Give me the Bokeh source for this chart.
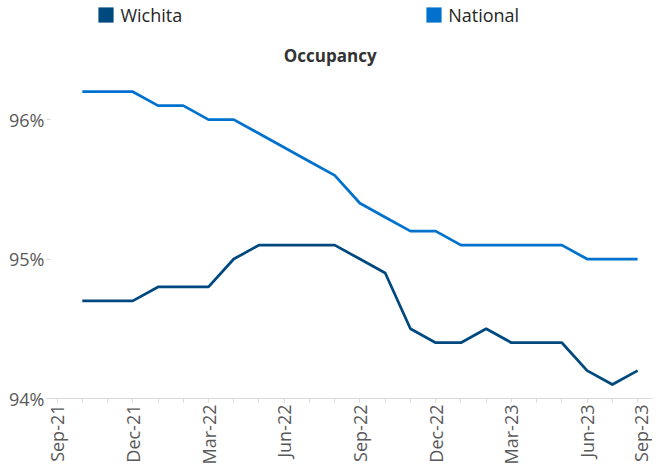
import math
from bokeh.plotting import figure
from bokeh.models import (Range1d, FixedTicker, PrintfTickFormatter, Legend,
                          LegendItem, Label)
from bokeh.embed import file_html
from bokeh.resources import INLINE

# ---- data -------------------------------------------------------------
axis_months = ["Sep-21", "Oct-21", "Nov-21", "Dec-21", "Jan-22", "Feb-22",
               "Mar-22", "Apr-22", "May-22", "Jun-22", "Jul-22", "Aug-22",
               "Sep-22", "Oct-22", "Nov-22", "Dec-22", "Jan-23", "Feb-23",
               "Mar-23", "Apr-23", "May-23", "Jun-23", "Jul-23", "Aug-23",
               "Sep-23"]
data_months = ["Oct-21", "Nov-21", "Dec-21", "Jan-22", "Feb-22", "Mar-22",
               "Apr-22", "May-22", "Jun-22", "Jul-22", "Aug-22", "Sep-22",
               "Oct-22", "Nov-22", "Dec-22", "Jan-23", "Feb-23", "Mar-23",
               "Apr-23", "May-23", "Jun-23", "Jul-23", "Aug-23"]
wichita = [94.7, 94.7, 94.7, 94.8, 94.8, 94.8, 95.0, 95.1, 95.1, 95.1, 95.1,
           95.0, 94.9, 94.5, 94.4, 94.4, 94.5, 94.4, 94.4, 94.4, 94.2, 94.1,
           94.2]
national = [96.2, 96.2, 96.2, 96.1, 96.1, 96.0, 96.0, 95.9, 95.8, 95.7, 95.6,
            95.4, 95.3, 95.2, 95.2, 95.1, 95.1, 95.1, 95.1, 95.1, 95.0, 95.0,
            95.0]
tick_labels = ["Sep-21", "Dec-21", "Mar-22", "Jun-22", "Sep-22", "Dec-22",
               "Mar-23", "Jun-23", "Sep-23"]
y_ticks = [94, 95, 96]
series_names = ["Wichita", "National"]
title_text = "Occupancy"

# ---- style ------------------------------------------------------------
C_WICHITA = "#00497F"
C_NATIONAL = "#0072CE"
FONT = "Open Sans"
AXIS_GRAY = "#D9D9D9"
LABEL_GRAY = "#595959"

X_START, X_END = -0.26, 23.59

x = [axis_months.index(m) for m in data_months]
# the last label (Sep-23) falls just past the right edge; like the reference,
# pull it back inside so that it stays readable
tick_pos = [min(float(axis_months.index(t)), X_END - 0.28) for t in tick_labels]

p = figure(width=652, height=467,
           x_range=Range1d(X_START, X_END), y_range=Range1d(94, 96.854),
           min_border_left=50, min_border_right=0, min_border_top=0,
           min_border_bottom=66, output_backend="svg", toolbar_location=None)
p.outline_line_color = None
p.xgrid.grid_line_color = None
p.ygrid.grid_line_color = None
p.background_fill_color = "white"

p.line(x, national, line_color=C_NATIONAL, line_width=2.75, line_join="round")
p.line(x, wichita, line_color=C_WICHITA, line_width=2.75, line_join="round")

# legend proxies (filled squares, nothing drawn in the plot area)
nan = float("nan")
rw = p.quad(left=[nan], right=[nan], top=[nan], bottom=[nan],
            fill_color=C_WICHITA, line_color=None)
rn = p.quad(left=[nan], right=[nan], top=[nan], bottom=[nan],
            fill_color=C_NATIONAL, line_color=None)

# x axis: month tick marks (minor), labels every quarter (major, no mark)
xa = p.xaxis[0]
xa.ticker = FixedTicker(ticks=tick_pos,
                        minor_ticks=list(range(len(axis_months))))
xa.major_label_overrides = {pos: lab for pos, lab in zip(tick_pos, tick_labels)}
xa.major_label_orientation = math.pi / 2
xa.axis_line_color = AXIS_GRAY
xa.major_tick_line_color = None
xa.minor_tick_line_color = AXIS_GRAY
xa.major_tick_out = 4
xa.major_tick_in = 0
xa.minor_tick_out = 4
xa.minor_tick_in = 0
xa.major_label_standoff = 2
xa.major_label_text_font = FONT
xa.major_label_text_font_size = "18px"
xa.major_label_text_color = LABEL_GRAY

# y axis
ya = p.yaxis[0]
ya.ticker = FixedTicker(ticks=y_ticks)
ya.formatter = PrintfTickFormatter(format="%d%%")
ya.axis_line_color = None
ya.major_tick_line_color = AXIS_GRAY
ya.minor_tick_line_color = None
ya.major_tick_out = 4
ya.major_tick_in = 0
ya.major_label_standoff = 2
ya.major_label_text_font = FONT
ya.major_label_text_font_size = "18px"
ya.major_label_text_color = LABEL_GRAY

legend = Legend(items=[LegendItem(label=series_names[0], renderers=[rw]),
                       LegendItem(label=series_names[1], renderers=[rn])],
                orientation="horizontal", location=(46.4, 371.5),
                glyph_width=19, glyph_height=19, label_standoff=5, spacing=242,
                padding=0, margin=0, border_line_color=None,
                background_fill_alpha=0, label_text_font=FONT,
                label_text_font_size="18px", label_text_color="#262626")
p.add_layout(legend)

title = Label(x=279.7, y=343, x_units="screen", y_units="screen",
              text=title_text, text_font=FONT, text_font_style="bold",
              text_font_size="17px", text_align="center",
              text_baseline="middle", text_color="#333333")
p.add_layout(title)

open("out.html", "w").write(file_html(p, INLINE))
